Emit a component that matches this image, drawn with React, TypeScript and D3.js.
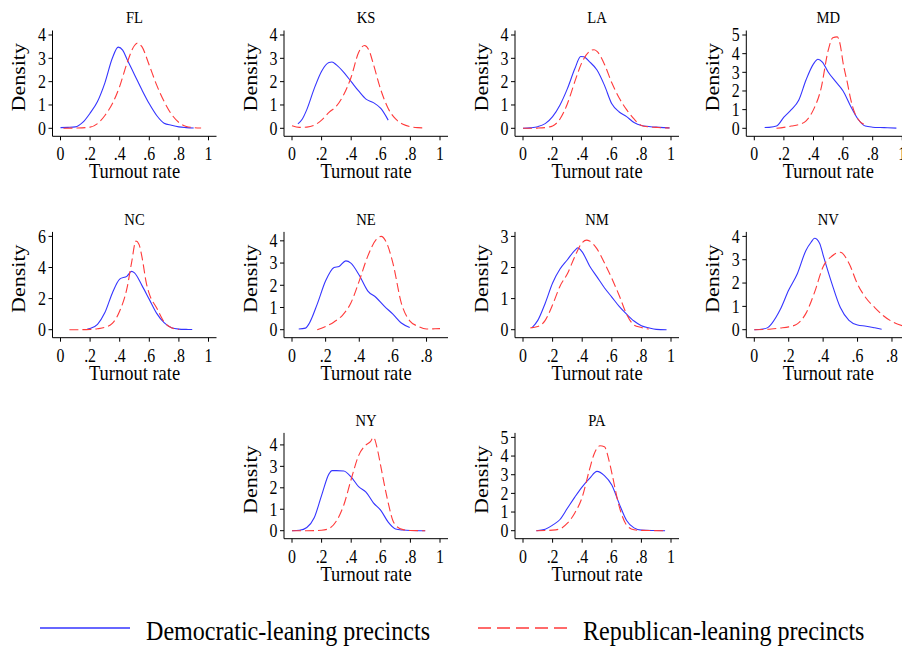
import { useEffect, useRef } from "react";
import * as d3 from "d3";

type Pt = [number, number];

// Panel names, in reading order
const states = ["FL", "KS", "LA", "MD", "NC", "NE", "NM", "NV", "NY", "PA"];

// Axis ticks per panel
const yTickMax = [4, 4, 4, 5, 6, 4, 3, 4, 4, 5];
const yTickStep = [1, 1, 1, 1, 2, 1, 1, 1, 1, 1];
const xTickMax = [1, 1, 1, 1, 1, 0.8, 1, 0.8, 1, 1];
const xTickLabels = ["0", ".2", ".4", ".6", ".8", "1"];

// Density curves: [turnout rate, density]
const demFL: Pt[] = [[0, .03], [.05, .04], [.1, .06], [.15, .25], [.2, .65], [.25, 1.15], [.3, 1.95], [.35, 3.0], [.39, 3.48], [.42, 3.35], [.45, 2.95], [.5, 2.3], [.55, 1.65], [.6, 1.05], [.65, .55], [.7, .22], [.75, .13], [.8, .06], [.85, .03], [.9, .01]];
const repFL: Pt[] = [[.02, 0], [.1, .01], [.2, .05], [.25, .2], [.3, .55], [.35, 1.05], [.4, 1.8], [.45, 2.8], [.5, 3.55], [.52, 3.65], [.55, 3.5], [.6, 2.7], [.65, 1.85], [.7, 1.15], [.75, .6], [.8, .25], [.85, .08], [.9, .03], [.95, .01]];
const demKS: Pt[] = [[.04, .19], [.07, .4], [.1, .8], [.15, 1.7], [.2, 2.45], [.25, 2.82], [.27, 2.84], [.3, 2.72], [.35, 2.4], [.4, 2.0], [.45, 1.6], [.5, 1.25], [.55, 1.1], [.6, .85], [.65, .35]];
const repKS: Pt[] = [[0, .11], [.05, .04], [.1, .05], [.15, .13], [.2, .35], [.25, .68], [.3, .95], [.35, 1.45], [.4, 2.2], [.45, 3.25], [.49, 3.55], [.52, 3.35], [.55, 2.75], [.6, 1.65], [.65, .85], [.7, .4], [.75, .17], [.8, .07], [.85, .03], [.88, .02]];
const demLA: Pt[] = [[0, 0], [.05, .02], [.1, .07], [.15, .2], [.2, .5], [.25, 1.0], [.3, 1.7], [.35, 2.55], [.39, 3.08], [.41, 3.07], [.45, 2.85], [.5, 2.5], [.55, 1.85], [.6, 1.05], [.65, .7], [.7, .5], [.75, .25], [.8, .12], [.85, .08], [.9, .05], [.95, .03], [.99, .02]];
const repLA: Pt[] = [[0, 0], [.1, .01], [.15, .03], [.2, .1], [.25, .4], [.3, 1.05], [.35, 2.0], [.4, 2.85], [.45, 3.3], [.48, 3.37], [.5, 3.3], [.55, 2.75], [.6, 1.95], [.65, 1.3], [.7, .8], [.75, .4], [.8, .12], [.85, .06], [.9, .04], [.95, .02], [.99, .01]];
const demMD: Pt[] = [[.07, .04], [.1, .05], [.15, .12], [.2, .6], [.25, 1.0], [.3, 1.5], [.35, 2.6], [.4, 3.45], [.43, 3.7], [.46, 3.55], [.5, 3.0], [.55, 2.5], [.6, 2.0], [.65, 1.2], [.7, .5], [.75, .12], [.8, .06], [.85, .04], [.9, .03], [.96, .01]];
const repMD: Pt[] = [[.15, 0], [.2, .05], [.25, .12], [.3, .2], [.35, .4], [.4, 1.0], [.45, 2.1], [.5, 4.2], [.53, 4.85], [.56, 4.9], [.58, 4.5], [.6, 3.5], [.63, 2.4], [.65, 1.6], [.68, .8], [.7, .5], [.75, .18]];
const demNC: Pt[] = [[.18, .03], [.2, .08], [.25, .35], [.3, 1.1], [.35, 2.35], [.4, 3.25], [.45, 3.45], [.48, 3.75], [.5, 3.65], [.55, 2.85], [.6, 1.95], [.65, 1.05], [.7, .45], [.75, .12], [.8, .04], [.85, .02], [.89, .01]];
const repNC: Pt[] = [[.06, 0], [.1, 0], [.2, .02], [.25, .06], [.3, .15], [.35, .4], [.4, 1.2], [.45, 2.7], [.48, 4.3], [.51, 5.7], [.53, 5.5], [.55, 4.7], [.58, 3.0], [.6, 2.3], [.65, 1.4], [.7, .5], [.75, .12], [.8, .02]];
const demNE: Pt[] = [[.04, .03], [.08, .07], [.1, .25], [.15, 1.15], [.2, 2.2], [.25, 2.8], [.28, 2.85], [.32, 3.1], [.35, 3.0], [.4, 2.45], [.45, 1.75], [.5, 1.45], [.55, 1.05], [.6, .7], [.65, .3], [.7, .1]];
const repNE: Pt[] = [[.15, 0], [.2, .15], [.25, .35], [.3, .65], [.35, 1.2], [.4, 2.2], [.45, 3.3], [.5, 4.05], [.53, 4.2], [.56, 3.95], [.6, 3.0], [.65, 1.2], [.7, .4], [.75, .15], [.8, .03], [.85, .04], [.88, .05]];
const demNM: Pt[] = [[.06, .06], [.1, .3], [.15, .85], [.2, 1.5], [.25, 1.95], [.3, 2.25], [.35, 2.55], [.37, 2.63], [.4, 2.5], [.45, 2.05], [.5, 1.7], [.55, 1.35], [.6, 1.05], [.65, .75], [.7, .5], [.75, .28], [.8, .13], [.85, .06], [.9, .01], [.97, 0]];
const repNM: Pt[] = [[.05, .06], [.1, .1], [.15, .3], [.2, .8], [.25, 1.4], [.3, 1.8], [.35, 2.35], [.4, 2.8], [.43, 2.88], [.45, 2.85], [.5, 2.6], [.55, 2.15], [.6, 1.65], [.65, 1.1], [.7, .5], [.75, .15], [.8, .07], [.85, .02]];
const demNV: Pt[] = [[0, 0], [.05, .03], [.08, .1], [.1, .25], [.15, .85], [.2, 1.7], [.25, 2.4], [.3, 3.4], [.33, 3.75], [.35, 3.92], [.38, 3.7], [.4, 3.2], [.45, 2.0], [.5, .95], [.55, .4], [.6, .2], [.65, .15], [.7, .08], [.74, .02]];
const repNV: Pt[] = [[0, 0], [.1, .03], [.15, .07], [.2, .12], [.25, .25], [.3, .7], [.35, 1.6], [.4, 2.7], [.45, 3.15], [.5, 3.32], [.55, 2.85], [.6, 1.95], [.65, 1.35], [.7, .95], [.75, .6], [.8, .35], [.86, .17]];
const demNY: Pt[] = [[0, 0], [.05, .02], [.1, .15], [.15, .6], [.2, 1.65], [.25, 2.65], [.27, 2.8], [.3, 2.8], [.35, 2.78], [.4, 2.5], [.45, 2.05], [.5, 1.8], [.55, 1.3], [.6, .95], [.65, .4], [.7, .08], [.75, .03], [.8, .01], [.9, 0]];
const repNY: Pt[] = [[0, 0], [.1, 0], [.2, .02], [.25, .1], [.3, .45], [.35, 1.2], [.4, 2.4], [.45, 3.5], [.5, 4.0], [.53, 4.15], [.55, 4.35], [.58, 3.7], [.6, 3.0], [.65, 1.3], [.68, .5], [.7, .25], [.75, .05], [.8, .01], [.9, 0]];
const demPA: Pt[] = [[.09, 0], [.15, .08], [.2, .3], [.25, .6], [.3, 1.2], [.35, 1.8], [.4, 2.35], [.45, 2.8], [.5, 3.18], [.55, 2.95], [.6, 2.45], [.65, 1.45], [.7, .55], [.75, .15], [.8, .03], [.9, .01], [.96, 0]];
const repPA: Pt[] = [[.09, 0], [.2, .03], [.25, .1], [.3, .4], [.35, .95], [.4, 1.8], [.45, 3.3], [.48, 4.1], [.52, 4.55], [.55, 4.5], [.58, 3.8], [.6, 3.1], [.65, 1.3], [.7, .3], [.75, .05], [.8, .02], [.96, 0]];

const demSeries = [demFL, demKS, demLA, demMD, demNC, demNE, demNM, demNV, demNY, demPA];
const repSeries = [repFL, repKS, repLA, repMD, repNC, repNE, repNM, repNV, repNY, repPA];

const seriesNames = ["Democratic-leaning precincts", "Republican-leaning precincts"];

export default function App(): JSX.Element {
    const svgRef = useRef<SVGSVGElement>(null);
    const width = 902;
    const height = 650;

    useEffect(() => {
        const svg = d3.select(svgRef.current);
        svg.selectAll("*").remove();

        const font = "'Liberation Serif', 'Times New Roman', serif";
        const blue = "#3535ff";
        const red = "#ff3a3a";
        // the original graph is squeezed sideways, so its glyphs are narrow
        const sq = 0.86;

        // horizontal text, squeezed along x
        const hText = (g: d3.Selection<SVGGElement, unknown, null, undefined>,
            tx: number, ty: number, size: number, anchor: string, s: string) =>
            g.append("text")
                .attr("transform", `translate(${tx},${ty}) scale(${sq},1)`)
                .attr("text-anchor", anchor)
                .attr("font-family", font).attr("font-size", size)
                .text(s);

        // grid slots: where the value 0 sits on each axis
        const colX0 = [60.5, 292, 523, 754.3];
        const rowY0 = [128.3, 329.7, 530.7];
        const slots: [number, number][] = [
            [0, 0], [1, 0], [2, 0], [3, 0],
            [0, 1], [1, 1], [2, 1], [3, 1],
            [1, 2], [2, 2],
        ];
        const plotW = 148;
        const plotH = 93.3;

        states.forEach((st, i) => {
            const dem = demSeries[i];
            const rep = repSeries[i];
            const all = dem.concat(rep);
            const xMax = Math.max(xTickMax[i], d3.max(all, d => d[0]) as number);
            const yMax = Math.max(yTickMax[i], d3.max(all, d => d[1]) as number);
            const x0 = colX0[slots[i][0]];
            const y0 = rowY0[slots[i][1]];

            const x = d3.scaleLinear().domain([0, xMax]).range([x0, x0 + plotW]);
            const y = d3.scaleLinear().domain([0, yMax]).range([y0, y0 - plotH]);

            const g = svg.append("g");

            // axis lines
            const axX = x0 - 8;
            const axY = y0 + 8;
            g.append("line")
                .attr("x1", axX).attr("x2", axX)
                .attr("y1", axY).attr("y2", y(yMax) - 4.5)
                .attr("stroke", "#000").attr("stroke-width", 1);
            g.append("line")
                .attr("x1", axX).attr("x2", x0 + plotW + 8)
                .attr("y1", axY).attr("y2", axY)
                .attr("stroke", "#000").attr("stroke-width", 1);

            // y ticks
            const yTicks = d3.range(0, yTickMax[i] + 0.001, yTickStep[i]);
            yTicks.forEach(t => {
                g.append("line")
                    .attr("x1", axX - 4).attr("x2", axX)
                    .attr("y1", y(t)).attr("y2", y(t))
                    .attr("stroke", "#000");
                hText(g, axX - 6.5, y(t) + 6.3, 18.5, "end", String(t));
            });

            // x ticks
            const xTicks = d3.range(0, xTickMax[i] + 0.001, 0.2);
            xTicks.forEach((t, k) => {
                g.append("line")
                    .attr("x1", x(t)).attr("x2", x(t))
                    .attr("y1", axY).attr("y2", axY + 4)
                    .attr("stroke", "#000");
                hText(g, x(t), axY + 24, 18.5, "middle", xTickLabels[k]);
            });

            // axis titles and panel title
            hText(g, x0 + 74, axY + 42, 21.5, "middle", "Turnout rate");
            g.append("text")
                .attr("transform", `translate(${x0 - 35.5},${y0 - 51}) rotate(-90) scale(1,${sq})`)
                .attr("text-anchor", "middle")
                .attr("font-family", font).attr("font-size", 22)
                .text("Density");
            hText(g, x0 + 74, y0 - 105, 17, "middle", st);

            const line = d3.line<Pt>()
                .x(d => x(d[0]))
                .y(d => y(d[1]))
                .curve(d3.curveMonotoneX);

            g.append("path")
                .attr("d", line(dem))
                .attr("fill", "none")
                .attr("stroke", blue)
                .attr("stroke-width", 1.1);
            g.append("path")
                .attr("d", line(rep))
                .attr("fill", "none")
                .attr("stroke", red)
                .attr("stroke-width", 1.1)
                .attr("stroke-dasharray", "9,4");
        });

        // legend
        const leg = svg.append("g");
        leg.append("line")
            .attr("x1", 40).attr("x2", 130).attr("y1", 628).attr("y2", 628)
            .attr("stroke", blue).attr("stroke-width", 1.4);
        hText(leg, 146, 640, 28, "start", seriesNames[0]);
        leg.append("line")
            .attr("x1", 478).attr("x2", 570).attr("y1", 628).attr("y2", 628)
            .attr("stroke", red).attr("stroke-width", 1.4)
            .attr("stroke-dasharray", "13,6");
        hText(leg, 583, 640, 28, "start", seriesNames[1]);
    }, []);

    return (
        <svg
            ref={svgRef}
            width={width}
            height={height}
            style={{ position: "absolute", left: 0, top: 0, background: "#fff" }}
        />
    );
}
